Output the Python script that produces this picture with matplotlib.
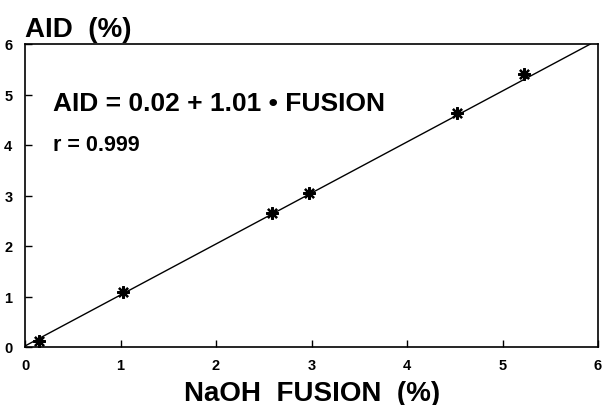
import matplotlib
matplotlib.use("Agg")
from matplotlib import pyplot as plt
import numpy as np

plt.rcParams["font.family"] = ["Liberation Sans", "DejaVu Sans"]

# measured points (NaOH fusion vs AID, %)
fusion = [0.15, 1.03, 2.59, 2.97, 4.52, 5.23]
aid = [0.12, 1.09, 2.65, 3.05, 4.63, 5.41]

# regression line
intercept = 0.02
slope = 1.01

ticks = [0, 1, 2, 3, 4, 5, 6]

fig = plt.figure(figsize=(6.02, 4.06), dpi=100)
ax = fig.add_axes([25 / 602, 1 - 348 / 406, 573 / 602, 303 / 406])

x_line = np.array([0, (6 - intercept) / slope])
ax.plot(x_line, intercept + slope * x_line, color="black", lw=1.0)
ax.plot(fusion, aid, linestyle="none", marker=(8, 2, 0), markersize=9,
        markeredgewidth=1.6, color="black")

ax.set_xlim(0, 6)
ax.set_ylim(0, 6)
ax.set_xticks(ticks)
ax.set_yticks(ticks)
ax.tick_params(direction="in", length=5, width=1, labelsize=10.5)
ax.tick_params(axis="x", pad=8)
ax.tick_params(axis="y", pad=9)
for lab in ax.get_xticklabels() + ax.get_yticklabels():
    lab.set_fontweight("bold")
for sp in ax.spines.values():
    sp.set_linewidth(1.2)

ax.text(0.29, 4.83, "AID = 0.02 + 1.01 \u2022 FUSION", fontsize=19,
        fontweight="bold", va="center", ha="left")
ax.text(0.29, 4.0, "r = 0.999", fontsize=15.5, fontweight="bold",
        va="center", ha="left")

fig.text(25 / 602, 1 - 37 / 406, "AID  (%)", fontsize=20,
         fontweight="bold", ha="left", va="baseline")
fig.text(312 / 602, 1 - 401 / 406, "NaOH  FUSION  (%)", fontsize=20,
         fontweight="bold", ha="center", va="baseline")

fig.savefig("out.png", dpi=100)
